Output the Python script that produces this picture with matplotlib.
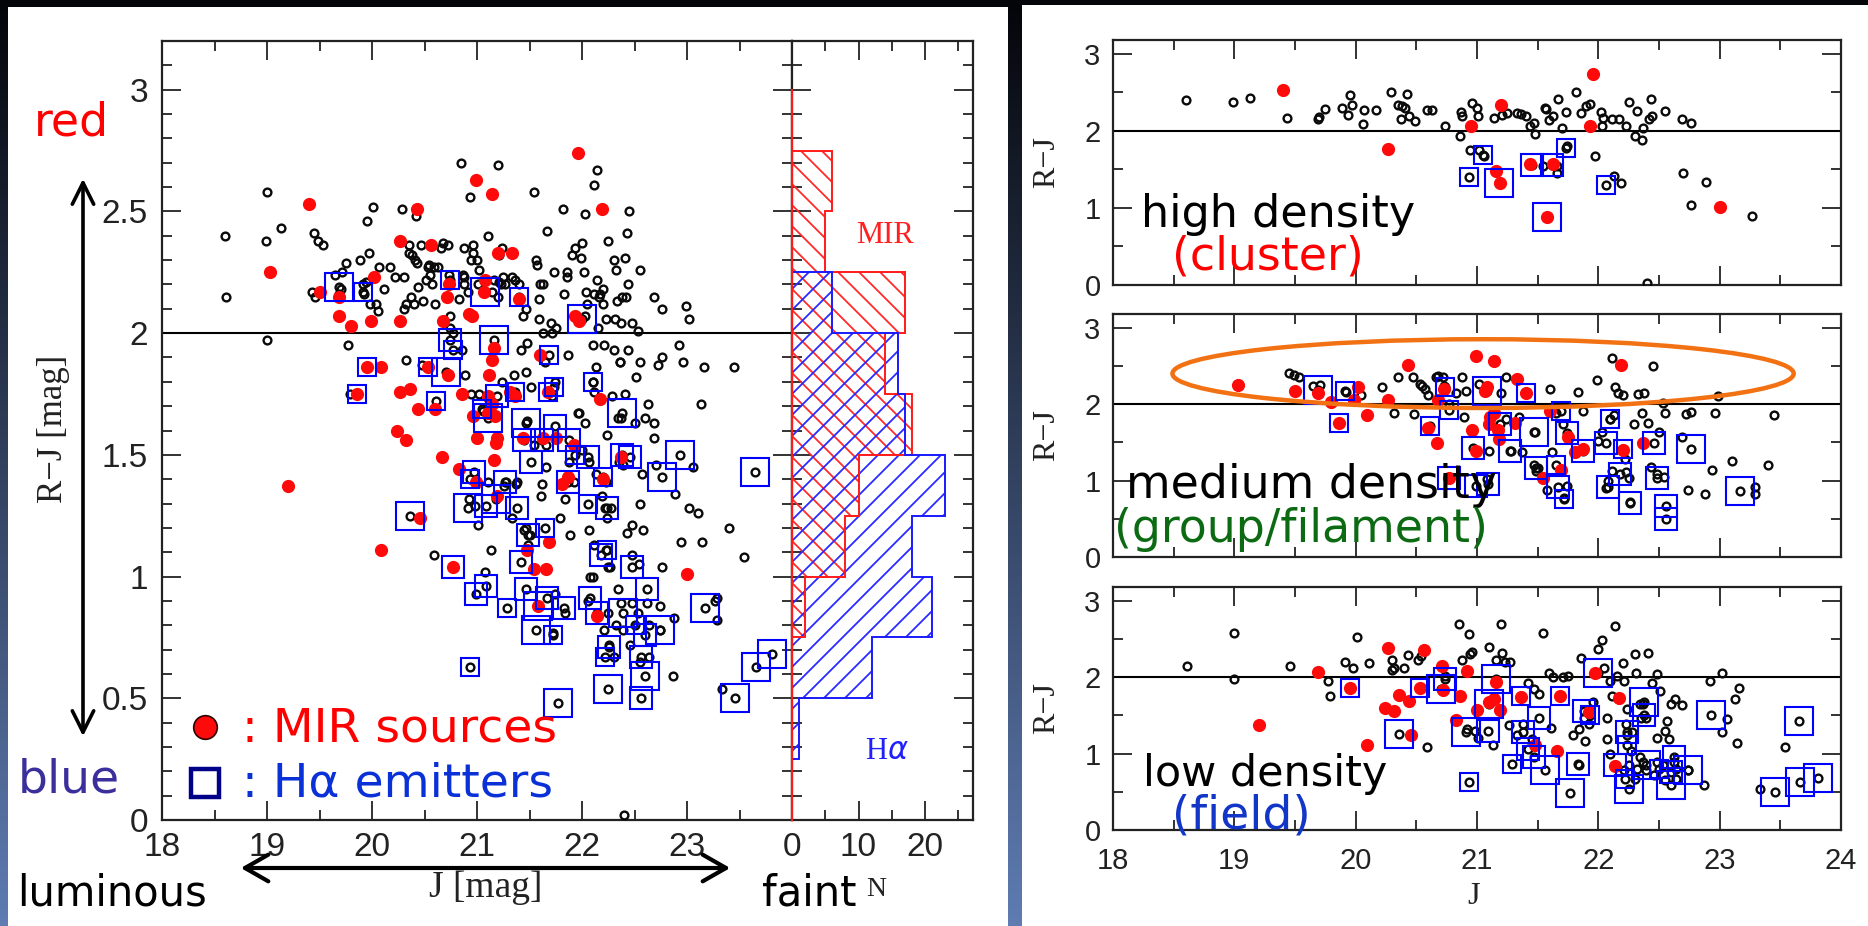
import numpy as np
import matplotlib
matplotlib.use("Agg")
import matplotlib.pyplot as plt
from matplotlib.patches import Ellipse, Rectangle, FancyArrowPatch
from matplotlib.ticker import MultipleLocator, FixedLocator, FuncFormatter

W, H = 1868, 926

# ---------------- data: (J, R-J) ----------------
# high density (cluster)
cluster_gal = [(18.60,2.40),(18.99,2.38),(19.13,2.43),(19.43,2.17),(19.69,2.16),(19.70,2.18),(19.75,2.29),(19.89,2.30),
    (19.95,2.46),(19.97,2.33),(19.94,2.21),(20.06,2.09),(20.07,2.27),(20.17,2.27),(20.29,2.51),(20.42,2.48),(20.35,2.33),
    (20.38,2.32),(20.41,2.30),(20.37,2.15),(20.44,2.19),(20.49,2.13),(20.59,2.27),(20.63,2.27),(20.74,2.07),(20.86,1.93),
    (20.87,2.24),(20.88,2.20),(20.96,2.36),(21.00,2.30),(21.01,2.20),(20.94,1.75),(21.02,1.75),(21.06,1.68),(21.14,2.17),
    (21.21,2.21),(21.25,2.23),(21.33,2.23),(21.36,2.22),(21.40,2.20),(21.44,2.07),(21.47,2.10),(21.48,1.96),(21.56,2.30),
    (21.57,2.28),(21.59,2.14),(21.63,2.20),(21.67,2.42),(21.70,2.04),(21.73,2.25),(21.82,2.51),(21.86,2.23),(21.90,2.32),
    (21.93,2.35),(21.97,1.67),(22.02,2.25),(22.03,2.07),(22.04,2.17),(22.11,2.16),(22.17,2.16),(22.13,1.42),(22.19,1.33),
    (22.23,2.06),(22.25,2.38),(22.30,1.93),(22.32,2.26),(22.36,1.88),(22.37,2.04),(22.42,2.15),(22.43,2.41),(22.44,2.20),
    (22.55,2.26),(22.69,2.15),(22.76,2.10),(22.70,1.46),(22.89,1.34),(22.76,1.04),(23.27,0.90),(22.40,0.02),(21.66,1.45),
    (21.74,1.80),(21.54,1.54),(21.66,1.54)]
cluster_mir = [(19.40,2.53),(20.27,1.76),(20.95,2.07),(21.20,2.33),(21.16,1.48),(21.19,1.33),(21.44,1.57),(21.63,1.57),
    (21.58,0.88),(21.96,2.74),(21.93,2.07),(23.00,1.01)]
# (J, R-J, box size class)
cluster_ha = [(20.93,1.40,1),(21.05,1.69,1),(21.18,1.32,3),(21.45,1.56,2),(21.62,1.56,2),(21.73,1.78,1),(21.58,0.88,3),
    (22.06,1.30,1)]

# medium density (group / filament)
group_gal = [(19.45,2.41),(19.49,2.38),(19.53,2.36),(19.65,2.24),(19.71,2.25),(19.92,2.16),(20.04,2.12),(20.22,2.23),
    (20.32,1.89),(20.35,2.36),(20.47,2.36),(20.48,1.87),(20.53,2.27),(20.55,2.24),(20.57,2.20),(20.60,2.12),(20.66,2.35),
    (20.68,2.37),(20.72,2.36),(20.73,2.24),(20.77,2.00),(20.83,2.14),(20.88,2.35),(20.89,1.83),(20.91,2.17),(21.02,2.26),
    (21.08,1.02),(21.10,1.39),(21.24,2.35),(21.20,2.15),(21.24,1.80),(21.28,1.39),(21.35,1.83),(21.37,1.38),(21.48,1.64),
    (21.47,1.20),(21.49,1.13),(21.50,1.17),(21.58,0.88),(21.60,2.20),(21.62,1.38),(21.65,1.88),(21.71,1.74),(21.72,0.77),
    (21.74,0.93),(21.83,2.16),(21.87,1.91),(21.99,2.31),(22.00,1.52),(22.03,1.63),(22.06,0.90),(22.08,1.00),(22.10,1.80),
    (22.11,2.61),(22.13,1.86),(22.14,2.22),(22.16,2.15),(22.20,2.12),(22.22,1.28),(22.23,1.11),(22.25,1.04),(22.26,0.72),
    (22.29,1.74),(22.33,2.13),(22.36,1.88),(22.38,2.15),(22.41,1.75),(22.43,1.18),(22.45,2.50),(22.48,1.09),(22.50,1.63),
    (22.53,2.01),(22.54,1.05),(22.55,1.88),(22.69,1.57),(22.72,1.87),(22.76,1.90),(22.74,0.88),(22.88,0.83),(22.94,1.14),
    (22.96,1.88),(22.99,2.11),(23.10,1.26),(23.29,0.91),(23.40,1.20),(23.45,1.86),(23.29,0.82),(22.11,1.13)]
group_mir = [(19.03,2.25),(19.50,2.17),(19.69,2.15),(19.80,2.03),(19.86,1.75),(19.99,2.05),(20.02,2.23),(20.09,1.86),
    (20.27,2.05),(20.43,2.51),(20.60,1.69),(20.67,1.49),(20.68,2.05),(20.73,2.20),(20.77,1.04),(20.96,1.66),(20.99,2.63),
    (20.99,1.39),(21.07,2.17),(21.08,2.22),(21.10,1.74),(21.11,1.83),(21.14,1.89),(21.14,2.57),(21.17,1.66),(21.18,1.55),
    (21.31,1.76),(21.33,2.33),(21.40,2.14),(21.54,1.03),(21.60,1.91),(21.69,1.14),(21.75,1.57),(21.81,1.38),(21.87,1.41),
    (22.19,2.51),(22.20,1.40),(22.37,1.49)]
group_ha = [(19.69,2.19,3),(19.91,2.17,1),(19.86,1.75,1),(20.61,1.72,1),(20.74,2.22,1),(20.77,1.93,1),(20.77,1.04,2),
    (20.97,1.43,2),(20.99,0.93,2),(21.08,2.17,3),(21.09,0.96,2),(21.19,1.74,2),(21.27,1.39,2),(21.40,2.15,1),(21.47,1.63,3),
    (21.49,1.17,2),(21.65,1.20,1),(21.69,1.91,1),(21.67,0.91,2),(21.74,1.62,2),(21.72,0.76,1),(21.87,1.39,2),(22.06,1.49,2),
    (22.10,1.80,1),(22.08,0.91,2),(22.18,1.09,2),(22.26,0.71,2),(22.46,1.49,2),(22.48,1.04,2),(22.56,0.67,2),(22.56,0.50,2),
    (22.76,1.41,3),(23.17,0.87,3),(22.20,1.41,1)]

# low density (field)
field_gal = [(18.61,2.15),(19.00,2.58),(19.00,1.97),(19.46,2.15),(19.77,1.95),(19.79,1.75),(19.91,2.20),(19.98,2.12),
    (20.01,2.52),(20.11,2.18),(20.30,2.23),(20.30,2.10),(20.32,2.12),(20.40,2.12),(20.43,2.29),(20.51,2.22),(20.54,2.28),
    (20.59,1.09),(20.74,2.02),(20.85,2.70),(20.88,2.23),(20.92,1.32),(20.93,2.56),(20.94,2.30),(20.96,2.33),(20.98,1.29),
    (21.01,1.21),(21.10,2.40),(21.13,1.11),(21.16,2.22),(21.20,2.69),(21.21,2.32),(21.23,2.20),(21.27,2.20),(21.26,1.37),
    (21.33,1.24),(21.38,1.39),(21.42,1.93),(21.45,1.19),(21.47,1.84),(21.51,1.78),(21.54,2.58),(21.59,2.06),(21.61,1.33),
    (21.63,2.00),(21.71,2.00),(21.75,2.02),(21.79,1.24),(21.84,1.32),(21.86,2.25),(21.88,1.47),(21.89,1.17),(21.92,1.39),
    (21.96,1.67),(22.00,2.37),(22.03,2.49),(22.05,2.12),(22.07,1.47),(22.07,1.19),(22.10,1.95),(22.11,1.76),(22.14,2.67),
    (22.15,2.02),(22.20,2.18),(22.21,1.95),(22.23,1.39),(22.24,1.24),(22.27,1.04),(22.28,1.28),(22.30,2.30),(22.31,2.06),
    (22.34,1.65),(22.34,0.95),(22.35,1.47),(22.37,1.65),(22.39,1.46),(22.41,2.31),(22.44,1.93),(22.48,2.04),(22.51,1.82),
    (22.53,0.85),(22.55,1.30),(22.57,1.42),(22.58,1.19),(22.60,1.65),(22.63,1.71),(22.64,0.80),(22.69,1.63),(22.74,0.78),
    (22.87,0.59),(23.02,2.06),(22.92,1.95),(23.06,1.45),(23.02,1.28),(23.13,1.71),(23.14,1.14),(23.16,1.86),(23.33,0.54),
    (23.54,1.08),(22.62,0.89),(22.48,0.89),(22.39,0.78),(22.32,0.80),(22.21,0.78),(22.25,0.85),(22.37,0.89),(22.46,0.72),
    (22.30,0.67),(22.55,0.65),(22.64,0.67),(21.84,0.85),(22.10,1.00),(22.48,1.21),(22.24,1.58)]
field_mir = [(19.20,1.37),(19.69,2.07),(19.95,1.86),(20.09,1.11),(20.24,1.60),(20.27,2.38),(20.32,1.56),(20.36,1.77),
    (20.44,1.69),(20.46,1.24),(20.53,1.86),(20.56,2.36),(20.71,2.15),(20.72,1.83),(20.83,1.44),(20.86,1.75),(20.92,2.08),
    (21.00,1.57),(21.10,1.67),(21.14,1.71),(21.16,1.94),(21.19,1.57),(21.36,1.74),(21.48,1.11),(21.66,1.03),(21.68,1.76),
    (21.92,1.54),(21.97,2.05),(22.14,0.84),(22.17,1.73)]
field_ha = [(19.95,1.86,1),(20.36,1.25,3),(20.53,1.86,1),(20.70,1.84,3),(20.74,1.97,2),(20.91,1.28,3),(20.93,0.63,1),
    (21.09,1.29,2),(21.10,1.65,3),(21.16,1.97,3),(21.36,1.76,1),(21.38,1.28,2),(21.42,1.06,2),(21.29,0.87,1),(21.51,1.47,2),
    (21.47,0.95,2),(21.56,0.78,3),(21.68,1.76,1),(21.77,0.48,3),(21.83,0.87,2),(21.88,1.56,2),(21.93,1.50,1),(22.00,2.06,3),
    (22.14,0.85,2),(22.24,1.28,2),(22.25,0.54,3),(22.22,0.67,1),(22.38,1.67,3),(22.38,1.50,2),(22.39,0.85,3),(22.50,0.80,1),
    (22.60,0.76,2),(22.60,0.59,3),(22.62,0.95,2),(22.74,0.78,3),(22.93,1.50,3),(23.46,0.50,3),(23.65,1.43,3),(23.66,0.63,3),
    (23.81,0.68,3),(22.24,1.11,1)]

# R-J histograms (bin edges, counts)
mir_hist_edges = [0.75, 1.00, 1.25, 1.50, 1.75, 2.00, 2.25, 2.50, 2.75]
mir_hist_counts = [2, 8, 10, 18, 14, 17, 5, 6]
ha_hist_edges = [0.25, 0.50, 0.75, 1.00, 1.25, 1.50, 1.75, 2.00, 2.25, 2.50, 2.75]
ha_hist_counts = [1, 12, 21, 18, 23, 17, 16, 6, 0, 0]

left_xticks = [18, 19, 20, 21, 22, 23, 24]
hist_xticks = [0, 10, 20]
rj_divide = 2.0

# ---------------- styling ----------------
SANS_T = 'Liberation Sans'
SERIF = 'Liberation Serif'
HAND = 'DejaVu Sans'
ha_box_pt = {1: 13.0, 2: 16.0, 3: 19.5}

fig = plt.figure(figsize=(W / 100, H / 100), dpi=100)
fig.patch.set_facecolor('black')

def box(x0, y0, x1, y1):
    return [x0 / W, 1 - y1 / H, (x1 - x0) / W, (y1 - y0) / H]

def fx(px):
    return px / W

def fy(py):
    return 1 - py / H

# background: gradient strips + white panels
bg = fig.add_axes([0, 0, 1, 1], zorder=-10)
bg.set_xlim(0, W); bg.set_ylim(H, 0); bg.axis('off')
top_c = np.array([4, 5, 9]) / 255
bot_c = np.array([94, 124, 178]) / 255
t = np.linspace(0, 1, 256)[:, None, None]
grad = top_c[None, None, :] * (1 - t) + bot_c[None, None, :] * t
bg.imshow(grad, extent=[0, W, H, 0], aspect='auto')
bg.add_patch(Rectangle((8, 7), 1000, H - 7, facecolor='white', edgecolor='none'))
bg.add_patch(Rectangle((1022, 5), W - 1022, H - 5, facecolor='white', edgecolor='none'))


def style(ax, xmaj, xmin, ymaj, ymin, fs, xpad=10, ypad=8):
    ax.xaxis.set_major_locator(MultipleLocator(xmaj) if not isinstance(xmaj, list) else FixedLocator(xmaj))
    ax.xaxis.set_minor_locator(MultipleLocator(xmin))
    ax.yaxis.set_major_locator(MultipleLocator(ymaj))
    ax.yaxis.set_minor_locator(MultipleLocator(ymin))
    ax.tick_params(which='both', direction='in', top=True, right=True, width=1.3, color='#222222')
    ax.tick_params(which='major', length=14)
    ax.tick_params(which='minor', length=7)
    ax.tick_params(axis='x', pad=xpad)
    ax.tick_params(axis='y', pad=ypad)
    ax.tick_params(labelsize=fs, labelcolor='#222222')
    for s in ax.spines.values():
        s.set_linewidth(1.6)
        s.set_color('#222222')
    for lab in ax.get_xticklabels() + ax.get_yticklabels():
        lab.set_fontfamily(SANS_T)
    ax.yaxis.set_major_formatter(FuncFormatter(lambda v, p: f'{v:g}'))


def scatter_panel(ax, gal, mir, ha):
    gal = np.array(gal); mir = np.array(mir); ha = np.array(ha)
    ax.axhline(rj_divide, color='black', lw=1.5, zorder=2)
    ax.plot(gal[:, 0], gal[:, 1], 'o', ms=5.6, mfc='none', mec='#0a0a0a', mew=1.7, zorder=3)
    ax.plot(ha[:, 0], ha[:, 1], 'o', ms=5.6, mfc='none', mec='#0a0a0a', mew=1.7, zorder=3)
    ax.plot(mir[:, 0], mir[:, 1], 'o', ms=9.5, mfc='#ff0a0a', mec='none', zorder=4)
    for cls in (1, 2, 3):
        sel = ha[:, 2] == cls
        ax.plot(ha[sel, 0], ha[sel, 1], 's', ms=ha_box_pt[cls], mfc='none', mec='#0000ff', mew=1.5, zorder=5)


def hatch(ax, patch, kind, color, sx, sy, xmax, ymax, spacing=21):
    span = sx * xmax + sy * ymax
    xs = np.array([0.0, xmax])
    for c in np.arange(-span, span + spacing, spacing):
        if kind == 'back':      # '\' lines
            ys = (c - sx * xs) / sy
        else:                   # '/' lines
            ys = (c + sx * xs) / sy
        ln, = ax.plot(xs, ys, color=color, lw=1.3, zorder=3, scalex=False, scaley=False)
        ln.set_clip_path(patch)


# ---------------- left: all galaxies ----------------
LX0, LX1, LY0, LY1 = 162, 792, 41, 820
axL = fig.add_axes(box(LX0, LY0, LX1, LY1))
all_gal = cluster_gal + group_gal + field_gal
all_mir = cluster_mir + group_mir + field_mir
all_ha = cluster_ha + group_ha + field_ha
scatter_panel(axL, all_gal, all_mir, all_ha)
axL.set_xlim(18, 24); axL.set_ylim(0, 3.2)
style(axL, left_xticks, 0.5, 0.5, 0.1, 24, xpad=9, ypad=10)
axL.xaxis.set_major_formatter(FuncFormatter(lambda v, p: '' if v >= 24 else f'{v:g}'))

HX1 = 973
hist_xmax = (HX1 - LX1) / 6.65
axH = fig.add_axes(box(LX1, LY0, HX1, LY1))
axH.set_xlim(0, hist_xmax); axH.set_ylim(0, 3.2)
sx = (HX1 - LX1) / hist_xmax
sy = (LY1 - LY0) / 3.2
p_mir = axH.stairs(mir_hist_counts, mir_hist_edges, orientation='horizontal', fill=True, facecolor='none',
                   edgecolor='#ff1a1a', lw=1.4, zorder=4)
p_ha = axH.stairs(ha_hist_counts, ha_hist_edges, orientation='horizontal', fill=True, facecolor='none',
                  edgecolor='#1a1aff', lw=1.4, zorder=4)
hatch(axH, p_mir, 'back', '#ff2a2a', sx, sy, hist_xmax, 3.2)
hatch(axH, p_ha, 'fwd', '#2a2aff', sx, sy, hist_xmax, 3.2)
axH.plot([0, 0], [0, 3.0], color='#ff1a1a', lw=1.5, zorder=5, clip_on=False)
axH.set_xlim(0, hist_xmax); axH.set_ylim(0, 3.2)
style(axH, hist_xticks, 5, 0.5, 0.1, 24, xpad=9)
axH.set_yticklabels([])
axH.xaxis.set_major_formatter(FuncFormatter(lambda v, p: f'{v:g}'))
axH.text(14.0, 2.40, 'MIR', color='#ff2020', family=SERIF, fontsize=22, ha='center', va='center')
axH.text(14.2, 0.28, 'H$\\alpha$', color='#2020ff', family=SERIF, fontsize=22, ha='center', va='center')

fig.text(fx(54), fy(429), 'R\u2212J [mag]', rotation=90, family=SERIF, fontsize=25, ha='center', va='center', color='#222222')
fig.text(fx(486), fy(888), 'J [mag]', family=SERIF, fontsize=27, ha='center', va='center', color='#222222')
fig.text(fx(876), fy(889), 'N', family=SERIF, fontsize=20, ha='center', va='center', color='#222222')

# annotations on left figure
fig.text(fx(71), fy(123), 'red', color='#ff0000', family=HAND, fontsize=33, ha='center', va='center')
fig.text(fx(69), fy(780), 'blue', color='#3b2f9c', family=HAND, fontsize=34, ha='center', va='center')
fig.text(fx(112), fy(893), 'luminous', color='black', family=HAND, fontsize=30, ha='center', va='center')
fig.text(fx(809), fy(893), 'faint', color='black', family=HAND, fontsize=30, ha='center', va='center')
fig.add_artist(FancyArrowPatch((fx(83), fy(176)), (fx(83), fy(739)), transform=fig.transFigure,
                               arrowstyle='<->,head_length=0.7,head_width=0.35', mutation_scale=22, lw=2.6, color='black'))
fig.add_artist(FancyArrowPatch((fx(238), fy(868)), (fx(733), fy(868)), transform=fig.transFigure,
                               arrowstyle='<->,head_length=0.7,head_width=0.4', mutation_scale=24, lw=3, color='black'))
# legend
fig.add_artist(plt.Line2D([fx(205)], [fy(727)], marker='o', ms=17, mfc='#ff0a0a', mec='#300000', mew=1.2,
                          transform=fig.transFigure))
fig.text(fx(242), fy(729), ': MIR sources', color='#ff0000', family=HAND, fontsize=34, ha='left', va='center')
fig.add_artist(plt.Line2D([fx(205)], [fy(783)], marker='s', ms=20, mfc='none', mec='#000088', mew=3.2,
                          transform=fig.transFigure))
fig.text(fx(242), fy(784), ': H\u03b1 emitters', color='#0a30d8', family=HAND, fontsize=34, ha='left', va='center')

# ---------------- right: three environments ----------------
RX0, RX1 = 1113, 1841
panels = [
    (cluster_gal, cluster_mir, cluster_ha, (40, 285), 'high density', '(cluster)', '#ff0000'),
    (group_gal, group_mir, group_ha, (314, 557), 'medium density', '(group/filament)', '#0b6a12'),
    (field_gal, field_mir, field_ha, (587, 830), 'low density', '(field)', '#1236c8'),
]
for i, (g, m, h, (ytop, ybot), lab1, lab2, col2) in enumerate(panels):
    ax = fig.add_axes(box(RX0, ytop, RX1, ybot))
    scatter_panel(ax, g, m, h)
    ax.set_xlim(18, 24); ax.set_ylim(0, 3.18)
    style(ax, 1, 0.5, 1, 0.5, 21, xpad=12, ypad=9)
    ax.xaxis.set_major_formatter(FuncFormatter(lambda v, p: f'{v:g}'))
    if i < 2:
        ax.set_xticklabels([])
    fig.text(fx(1047), fy((ytop + ybot) / 2), 'R\u2212J', rotation=90, family=SERIF, fontsize=23,
             ha='center', va='center', color='#222222')
    if i == 0:
        fig.text(fx(1141), fy(214), lab1, color='black', family=HAND, fontsize=32, ha='left', va='center', zorder=10)
        fig.text(fx(1172), fy(257), lab2, color=col2, family=HAND, fontsize=33, ha='left', va='center', zorder=10)
    elif i == 1:
        ax.add_patch(Ellipse((21.05, 2.40), 5.12, 0.90, facecolor='none', edgecolor='#f27113', lw=3.2, zorder=6))
        fig.text(fx(1126), fy(486), lab1, color='black', family=HAND, fontsize=33, ha='left', va='center', zorder=10)
        fig.text(fx(1114), fy(530), lab2, color=col2, family=HAND, fontsize=33, ha='left', va='center', zorder=10)
    else:
        fig.text(fx(1143), fy(774), lab1, color='black', family=HAND, fontsize=31, ha='left', va='center', zorder=10)
        fig.text(fx(1172), fy(816), lab2, color=col2, family=HAND, fontsize=34, ha='left', va='center', zorder=10)

fig.text(fx(1474), fy(897), 'J', family=SERIF, fontsize=23, ha='center', va='center', color='#222222')

fig.savefig('out.png', dpi=100, facecolor=fig.get_facecolor())
